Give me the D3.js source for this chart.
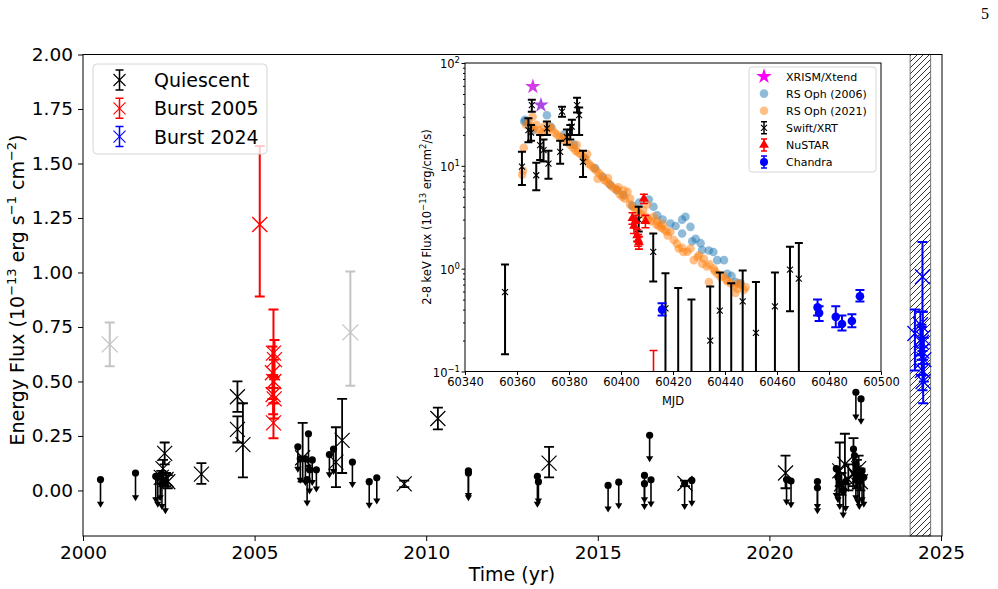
<!DOCTYPE html>
<html>
<head>
<meta charset="utf-8">
<script src="https://cdn.jsdelivr.net/npm/d3@7"></script>
<style>
body { margin: 0; background: #fff; }
text { font-family: "DejaVu Sans", sans-serif; fill: #000; }
</style>
</head>
<body>
<script>
// ---- main panel data: [year, flux, low, high] in 1e-13 erg/s/cm2 ----
var quiescent = [
    [2002.33, 0.10, 0.06, 0.14], [2002.38, 0.17, 0.12, 0.22], [2002.42, 0.05, 0.02, 0.08],
    [2002.28, 0.06, 0.03, 0.09], [2002.47, 0.04, 0.01, 0.07], [2003.45, 0.075, 0.03, 0.125],
    [2004.50, 0.43, 0.36, 0.50], [2004.50, 0.28, 0.22, 0.34], [2004.66, 0.21, 0.06, 0.40],
    [2006.40, 0.15, 0.04, 0.31], [2007.37, 0.13, 0.015, 0.29], [2007.55, 0.23, 0.08, 0.42],
    [2009.36, 0.03, 0.015, 0.045], [2010.34, 0.33, 0.28, 0.38], [2013.58, 0.125, 0.06, 0.20],
    [2017.54, 0.032, 0.02, 0.045], [2020.47, 0.08, 0.01, 0.16], [2022.05, 0.09, 0.02, 0.22],
    [2022.20, 0.12, 0.03, 0.26], [2022.45, 0.08, 0.02, 0.24], [2022.30, 0.05, 0.0, 0.12],
    [2022.55, 0.06, 0.01, 0.14], [2022.65, 0.04, 0.0, 0.10], [2022.10, 0.03, -0.02, 0.08],
    [2022.60, 0.10, 0.04, 0.16]
];
var quiescentFaint = [[2000.78, 0.67, 0.57, 0.77], [2007.79, 0.725, 0.48, 1.005]];
var burst2005 = [
    [2005.15, 1.22, 0.89, 1.58], [2005.55, 0.63, 0.47, 0.83], [2005.58, 0.60, 0.52, 0.69],
    [2005.52, 0.54, 0.42, 0.66], [2005.56, 0.50, 0.40, 0.60], [2005.54, 0.44, 0.35, 0.53],
    [2005.57, 0.42, 0.33, 0.51], [2005.55, 0.31, 0.24, 0.40]
];
var burst2024 = [
    [2024.46, 0.98, 0.82, 1.14], [2024.24, 0.72, 0.55, 0.83], [2024.40, 0.76, 0.62, 0.82],
    [2024.47, 0.70, 0.58, 0.82], [2024.44, 0.64, 0.53, 0.75], [2024.50, 0.60, 0.50, 0.70],
    [2024.46, 0.55, 0.46, 0.64], [2024.48, 0.50, 0.40, 0.60], [2024.43, 0.68, 0.60, 0.76]
];
// upper limits: [year, flux, arrow end]
var upperLimits = [
    [2000.51, 0.05, -0.07], [2001.53, 0.08, -0.04], [2002.12, 0.065, -0.05], [2002.18, 0.06, -0.07],
    [2002.25, 0.07, -0.04], [2002.40, 0.045, -0.10], [2002.30, 0.03, -0.08],
    [2006.26, 0.20, 0.09], [2006.33, 0.145, 0.04], [2006.48, 0.145, 0.03], [2006.57, 0.26, 0.10],
    [2006.68, 0.14, 0.03], [2006.60, 0.095, -0.01], [2006.80, 0.095, 0.0], [2006.53, 0.05, -0.065],
    [2007.18, 0.165, 0.065], [2007.30, 0.19, 0.08], [2007.85, 0.13, 0.02],
    [2008.34, 0.04, -0.075], [2008.56, 0.058, -0.055],
    [2011.23, 0.09, -0.03], [2011.23, 0.08, -0.04], [2013.24, 0.065, -0.07], [2013.27, 0.04, -0.055],
    [2015.30, 0.023, -0.092], [2015.61, 0.038, -0.077], [2016.36, 0.069, -0.081], [2016.36, 0.031, -0.05],
    [2016.51, 0.253, 0.138], [2016.55, 0.049, -0.069], [2017.53, 0.031, -0.081], [2017.74, 0.046, -0.066],
    [2020.50, 0.05, -0.06], [2020.63, 0.043, -0.072], [2021.40, 0.041, -0.10], [2021.40, 0.012, -0.08],
    [2021.95, 0.10, -0.03], [2022.00, 0.06, -0.05], [2022.05, 0.03, -0.08], [2022.15, 0.00, -0.12],
    [2022.22, 0.04, -0.09], [2022.45, 0.19, 0.07], [2022.48, 0.16, 0.04], [2022.52, 0.12, -0.04],
    [2022.58, 0.08, -0.06], [2022.62, 0.05, -0.08], [2022.70, 0.09, -0.05], [2022.75, 0.06, -0.07],
    [2022.52, 0.45, 0.33], [2022.67, 0.42, 0.31]
];
var hatchSpan = [2024.1, 2024.7];
var yearTicks = [2000, 2005, 2010, 2015, 2020, 2025];
var fluxTicks = [0, 0.25, 0.5, 0.75, 1.0, 1.25, 1.5, 1.75, 2.0];
var mainLegend = ["Quiescent", "Burst 2005", "Burst 2024"];

// ---- inset data: [MJD, flux] or [MJD, flux, low, high] ----
var xrism = [[60366.1, 59], [60369.2, 39]];
var rsOph2006 = [
    [60362.8, 27], [60363.1, 28], [60364.0, 26], [60366.0, 22], [60371.5, 31], [60373.0, 24],
    [60378.0, 20], [60382.0, 16], [60386.0, 12], [60390.0, 9.5], [60393.0, 7.8], [60395.9, 6.5],
    [60398.5, 5.8], [60401.0, 5.2], [60404.3, 4.1], [60407.0, 4.4], [60410.7, 4.7], [60412.5, 4.0],
    [60413.9, 3.3], [60416.0, 3.0], [60419.0, 2.75], [60421.0, 2.6], [60423.5, 3.0], [60424.8, 3.2],
    [60426.7, 2.55], [60423.5, 2.2], [60427.4, 1.85], [60428.7, 1.95], [60430.6, 1.77], [60431.2, 1.52],
    [60433.8, 1.5], [60435.5, 1.45], [60437.0, 1.21], [60439.6, 1.21], [60440.9, 0.89], [60442.5, 0.85],
    [60444.1, 0.74], [60446.0, 0.72]
];
var rsOph2021 = [
    [60362.0, 8.2], [60362.3, 9.0], [60362.6, 15], [60363.5, 25], [60364.5, 27], [60365.5, 24],
    [60366.5, 23], [60367.5, 25], [60368.5, 22], [60369.5, 21], [60370.5, 24], [60371.5, 22],
    [60372.5, 24], [60373.5, 23], [60374.5, 21], [60375.5, 20], [60376.5, 19], [60377.5, 18],
    [60378.5, 19], [60379.5, 17], [60380.5, 16], [60381.5, 15], [60382.5, 14], [60383.5, 13.5],
    [60384.5, 13], [60385.5, 12], [60386.5, 11.5], [60387.5, 10.5], [60388.5, 10], [60389.5, 9.5],
    [60390.5, 9], [60391.5, 8.5], [60392.5, 8], [60393.5, 7.3], [60394.5, 7], [60395.5, 6.7],
    [60396.5, 6.3], [60397.5, 6], [60398.5, 5.8], [60399.5, 5.3], [60400.5, 5], [60401.5, 4.8],
    [60402.5, 5.6], [60403.5, 4.2], [60404.5, 4], [60405.5, 3.8], [60406.5, 3.6], [60407.5, 3.4],
    [60408.5, 3.7], [60409.5, 3.2], [60410.5, 3.0], [60411.5, 2.9], [60412.5, 3.2], [60413.5, 2.7],
    [60414.5, 2.6], [60415.5, 2.5], [60416.5, 2.4], [60417.5, 2.3], [60419.0, 2.27], [60420.3, 1.9],
    [60421.5, 1.75], [60422.2, 1.57], [60423.5, 1.6], [60425.5, 1.46], [60426.7, 1.57], [60428.0, 1.21],
    [60429.5, 1.3], [60431.2, 1.12], [60431.9, 1.25], [60433.0, 1.05], [60433.8, 0.74], [60435.7, 1.0],
    [60437.0, 0.89], [60438.3, 0.83], [60439.5, 0.85], [60440.5, 0.78], [60442.2, 0.72], [60443.5, 0.68],
    [60444.7, 0.64], [60446.0, 0.7], [60447.3, 0.62],
    [60366.0, 30], [60383.0, 16], [60387.0, 13], [60391.0, 7.5], [60395.0, 7.6], [60399.0, 6.2],
    [60401.0, 5.8], [60403.5, 4.8], [60410.0, 4.2], [60414.0, 2.9], [60416.0, 2.7], [60418.0, 2.1],
    [60424.0, 1.45], [60430.0, 1.35], [60434.0, 1.1], [60436.0, 0.95], [60441.0, 0.75], [60445.0, 0.72],
    [60448.0, 0.66], [60444.0, 0.58]
];
var swift = [
    [60355.4, 0.59, 0.147, 1.1], [60361.9, 9.8, 6.5, 13.7], [60364.4, 22.3, 17, 29],
    [60365.7, 38.9, 33.6, 44], [60365.4, 21, 17.5, 25], [60367.4, 8.1, 5.8, 10.7],
    [60368.9, 15.9, 11.4, 20], [60370.2, 14.2, 11, 18], [60371.5, 23.1, 20, 27],
    [60372.1, 10.5, 7.5, 14], [60376.6, 13.7, 10.5, 17.5], [60377.3, 33.6, 30, 37.5],
    [60379.2, 19, 16, 22.5], [60380.5, 21.4, 18, 25], [60381.1, 24, 20, 28],
    [60383.1, 38.9, 33, 46], [60383.9, 31.2, 20, 37], [60385.4, 10.9, 7.8, 14],
    [60406.8, 3.0, 2.3, 4.0], [60412.4, 1.46, 0.75, 2.2], [60417.1, 0.41, 0.05, 0.90],
    [60422.0, 0.08, 0.05, 0.65], [60427.1, 0.08, 0.05, 0.50], [60434.3, 0.20, 0.05, 0.67],
    [60438.0, 0.39, 0.05, 0.92], [60442.4, 0.08, 0.05, 0.72], [60446.8, 0.48, 0.05, 0.96],
    [60451.9, 0.237, 0.05, 0.74], [60459.2, 0.43, 0.05, 0.92], [60465.0, 0.98, 0.385, 1.63],
    [60468.4, 0.80, 0.05, 1.78]
];
var nustar = [
    [60404.4, 3.1, 2.7, 3.5], [60405.6, 2.9, 2.5, 3.3], [60408.8, 4.8, 4.3, 5.3],
    [60409.4, 2.9, 2.5, 3.3], [60405.0, 2.6, 2.2, 3.0], [60406.2, 2.1, 1.85, 2.4],
    [60406.6, 1.9, 1.65, 2.15], [60406.9, 1.8, 1.55, 2.05], [60412.5, 0.04, 0.02, 0.16]
];
var chandra = [
    [60415.8, 0.40, 0.35, 0.46], [60475.6, 0.42, 0.35, 0.50], [60476.2, 0.37, 0.31, 0.43],
    [60482.6, 0.34, 0.27, 0.43], [60485.0, 0.29, 0.25, 0.35], [60488.8, 0.31, 0.27, 0.36],
    [60491.9, 0.54, 0.48, 0.62]
];
var mjdTicks = [60340, 60360, 60380, 60400, 60420, 60440, 60460, 60480, 60500];
var logTicks = [0.1, 1, 10, 100];
var logTickExp = ["\u22121", "0", "1", "2"];
var insetLegend = ["XRISM/Xtend", "RS Oph (2006)", "RS Oph (2021)", "Swift/XRT", "NuSTAR", "Chandra"];

setChart();

function setChart() {
    var width = 998,
        height = 589;

    var svg = d3.select("body")
        .append("svg")
        .attr("width", width)
        .attr("height", height);

    var defs = svg.append("defs");
    var hatch = defs.append("pattern")
        .attr("id", "hatch")
        .attr("patternUnits", "userSpaceOnUse")
        .attr("width", 6)
        .attr("height", 6);
    hatch.append("path")
        .attr("d", "M0,6L6,0M-1.5,1.5L1.5,-1.5M4.5,7.5L7.5,4.5")
        .attr("stroke", "#000")
        .attr("stroke-width", 0.8);

    // page number
    svg.append("text")
        .attr("x", 985).attr("y", 19)
        .attr("text-anchor", "middle")
        .style("font-family", "'Liberation Serif', 'DejaVu Serif', serif")
        .attr("font-size", 16)
        .text("5");

    // ---------- main panel ----------
    var x = d3.scaleLinear().domain([2000, 2025]).range([83, 941]);
    var y = d3.scaleLinear().domain([-0.209, 2.0]).range([536, 54.5]);

    var main = svg.append("g").attr("class", "main");

    // hatched 2024 band
    main.append("rect")
        .attr("x", x(hatchSpan[0]))
        .attr("y", 54.5)
        .attr("width", x(hatchSpan[1]) - x(hatchSpan[0]))
        .attr("height", 536 - 54.5)
        .attr("fill", "url(#hatch)")
        .attr("stroke", "#555")
        .attr("stroke-width", 0.8);

    // grey points
    quiescentFaint.forEach(function(d) {
        errBar(main, x(d[0]), y(d[2]), y(d[3]), 5, "#c4c4c4", 2);
        xMark(main, x(d[0]), y(d[1]), 8, "#c4c4c4", 1.3);
    });

    // upper limits
    upperLimits.forEach(function(d) {
        var cx = x(d[0]), cy = y(d[1]), ty = y(d[2]);
        main.append("line")
            .attr("x1", cx).attr("x2", cx)
            .attr("y1", cy).attr("y2", ty - 2)
            .attr("stroke", "#000").attr("stroke-width", 1.6);
        main.append("path")
            .attr("d", "M" + (cx - 3.6) + "," + (ty - 4) + "L" + (cx + 3.6) + "," + (ty - 4) + "L" + cx + "," + (ty + 2) + "Z")
            .attr("fill", "#000");
        main.append("circle")
            .attr("cx", cx).attr("cy", cy).attr("r", 3.6)
            .attr("fill", "#000");
    });

    quiescent.forEach(function(d) {
        errBar(main, x(d[0]), y(d[2]), y(d[3]), 5, "#000", 1.8);
        xMark(main, x(d[0]), y(d[1]), 7.5, "#000", 1.2);
    });

    burst2005.forEach(function(d) {
        errBar(main, x(d[0]), y(d[2]), y(d[3]), 5, "#ff0000", 2);
        xMark(main, x(d[0]), y(d[1]), 7.5, "#ff0000", 1.3);
    });

    burst2024.forEach(function(d) {
        errBar(main, x(d[0]), y(d[2]), y(d[3]), 5, "#0000ff", 2);
        xMark(main, x(d[0]), y(d[1]), 7.5, "#0000ff", 1.3);
    });

    // axes
    var xAxis = main.append("g")
        .attr("transform", "translate(0,536)")
        .call(d3.axisBottom(x).tickValues(yearTicks).tickFormat(d3.format("d")).tickSize(5).tickPadding(5));
    var yAxis = main.append("g")
        .attr("transform", "translate(83,0)")
        .call(d3.axisLeft(y).tickValues(fluxTicks).tickFormat(d3.format(".2f")).tickSize(5).tickPadding(5));
    [xAxis, yAxis].forEach(function(a) {
        a.select(".domain").remove();
        a.attr("font-size", 18.5).attr("font-family", "DejaVu Sans");
        a.selectAll("line").attr("stroke-width", 1);
    });

    main.append("rect")
        .attr("x", 83).attr("y", 54.5)
        .attr("width", 859).attr("height", 536 - 54.5)
        .attr("fill", "none").attr("stroke", "#000").attr("stroke-width", 1);

    main.append("text")
        .attr("x", 512).attr("y", 581)
        .attr("text-anchor", "middle")
        .attr("font-size", 19)
        .text("Time (yr)");

    var yl = main.append("text")
        .attr("transform", "translate(24,290) rotate(-90)")
        .attr("text-anchor", "middle")
        .attr("font-size", 19);
    yl.append("tspan").text("Energy Flux (10");
    yl.append("tspan").attr("dy", -8).attr("font-size", 13).text("\u221213");
    yl.append("tspan").attr("dy", 8).text(" erg s");
    yl.append("tspan").attr("dy", -8).attr("font-size", 13).text("\u22121");
    yl.append("tspan").attr("dy", 8).text(" cm");
    yl.append("tspan").attr("dy", -8).attr("font-size", 13).text("\u22122");
    yl.append("tspan").attr("dy", 8).text(")");

    // main legend
    var leg = main.append("g");
    leg.append("rect")
        .attr("x", 93).attr("y", 64).attr("width", 174).attr("height", 90)
        .attr("rx", 4)
        .attr("fill", "#fff").attr("fill-opacity", 0.8)
        .attr("stroke", "#d6d6d6");
    var legColors = ["#000", "#ff0000", "#0000ff"];
    mainLegend.forEach(function(name, i) {
        var ly = 80 + i * 28.3;
        errBar(leg, 119.5, ly + 10, ly - 10, 4, legColors[i], 1.5);
        xMark(leg, 119.5, ly, 6, legColors[i], 1.1);
        leg.append("text")
            .attr("x", 154).attr("y", ly + 7)
            .attr("font-size", 19)
            .text(name);
    });

    // ---------- inset panel ----------
    var ix = d3.scaleLinear().domain([60340, 60500]).range([465, 881]);
    var iy = d3.scaleLog().domain([0.1, 100]).range([371.5, 63]);

    var inset = svg.append("g").attr("class", "inset");
    inset.append("rect")
        .attr("x", 465).attr("y", 63)
        .attr("width", 416).attr("height", 308.5)
        .attr("fill", "#fff");

    defs.append("clipPath").attr("id", "insetClip")
        .append("rect")
        .attr("x", 465).attr("y", 63)
        .attr("width", 416).attr("height", 308.5);

    var plot = inset.append("g").attr("clip-path", "url(#insetClip)");

    var starFill = ["#d63ce6", "#aa48e0"];
    xrism.forEach(function(d, i) {
        plot.append("path")
            .attr("transform", "translate(" + ix(d[0]) + "," + iy(d[1]) + ")")
            .attr("d", d3.symbol().type(d3.symbolStar).size(75)())
            .attr("fill", starFill[i]);
    });

    plot.selectAll(".rs06")
        .data(rsOph2006)
        .enter()
        .append("circle")
        .attr("class", "rs06")
        .attr("cx", function(d) { return ix(d[0]); })
        .attr("cy", function(d) { return iy(d[1]); })
        .attr("r", 4.3)
        .attr("fill", "#1f77b4")
        .attr("fill-opacity", 0.5);

    plot.selectAll(".rs21")
        .data(rsOph2021)
        .enter()
        .append("circle")
        .attr("class", "rs21")
        .attr("cx", function(d) { return ix(d[0]); })
        .attr("cy", function(d) { return iy(d[1]); })
        .attr("r", 4.3)
        .attr("fill", "#ff7f0e")
        .attr("fill-opacity", 0.5);

    swift.forEach(function(d) {
        errBar(plot, ix(d[0]), iy(d[2]), iy(d[3]), 4, "#000", 2);
        xMark(plot, ix(d[0]), iy(d[1]), 3, "#000", 1.1);
    });

    nustar.forEach(function(d) {
        errBar(plot, ix(d[0]), iy(d[2]), iy(d[3]), 4, "#ff0000", 1.6);
        plot.append("path")
            .attr("transform", "translate(" + ix(d[0]) + "," + iy(d[1]) + ")")
            .attr("d", d3.symbol().type(d3.symbolTriangle).size(42)())
            .attr("fill", "#ff0000");
    });

    chandra.forEach(function(d) {
        errBar(plot, ix(d[0]), iy(d[2]), iy(d[3]), 4.5, "#0000ff", 2);
        plot.append("circle")
            .attr("cx", ix(d[0])).attr("cy", iy(d[1])).attr("r", 4.3)
            .attr("fill", "#0000ff");
    });

    // inset axes
    var minorTicks = [];
    [0.1, 1, 10].forEach(function(dec) {
        for (var k = 2; k <= 9; k++) minorTicks.push(dec * k);
    });
    var ixAxis = inset.append("g")
        .attr("transform", "translate(0,371.5)")
        .call(d3.axisBottom(ix).tickValues(mjdTicks).tickFormat(d3.format("d")).tickSize(3.5).tickPadding(3));
    ixAxis.select(".domain").remove();
    ixAxis.attr("font-size", 11.5).attr("font-family", "DejaVu Sans");

    var iyMinor = inset.append("g")
        .attr("transform", "translate(465,0)")
        .call(d3.axisLeft(iy).tickValues(minorTicks).tickFormat("").tickSize(2));
    iyMinor.select(".domain").remove();

    var iyAxis = inset.append("g")
        .attr("transform", "translate(465,0)")
        .call(d3.axisLeft(iy).tickValues(logTicks).tickFormat("").tickSize(3.5));
    iyAxis.select(".domain").remove();

    logTicks.forEach(function(t, i) {
        var lab = inset.append("text")
            .attr("x", 460).attr("y", iy(t) + 5)
            .attr("text-anchor", "end")
            .attr("font-size", 11.5);
        lab.append("tspan").text("10");
        lab.append("tspan").attr("dy", -5).attr("font-size", 8.5).text(logTickExp[i]);
    });

    inset.append("rect")
        .attr("x", 465).attr("y", 63)
        .attr("width", 416).attr("height", 308.5)
        .attr("fill", "none").attr("stroke", "#000").attr("stroke-width", 1);

    inset.append("text")
        .attr("x", 673).attr("y", 405)
        .attr("text-anchor", "middle")
        .attr("font-size", 11.5)
        .text("MJD");

    var il = inset.append("text")
        .attr("transform", "translate(431,217) rotate(-90)")
        .attr("text-anchor", "middle")
        .attr("font-size", 11.5);
    il.append("tspan").text("2-8 keV Flux (10");
    il.append("tspan").attr("dy", -5).attr("font-size", 8.5).text("\u221213");
    il.append("tspan").attr("dy", 5).text(" erg/cm");
    il.append("tspan").attr("dy", -5).attr("font-size", 8.5).text("2");
    il.append("tspan").attr("dy", 5).text("/s)");

    // inset legend
    var ileg = inset.append("g");
    ileg.append("rect")
        .attr("x", 749).attr("y", 67).attr("width", 127).attr("height", 105)
        .attr("rx", 3)
        .attr("fill", "#fff").attr("fill-opacity", 0.8)
        .attr("stroke", "#d6d6d6");
    insetLegend.forEach(function(name, i) {
        var ly = 76.5 + i * 17.1, lx = 764;
        if (i === 0) {
            ileg.append("path")
                .attr("transform", "translate(" + lx + "," + ly + ")")
                .attr("d", d3.symbol().type(d3.symbolStar).size(75)())
                .attr("fill", "#ff00ff");
        } else if (i === 1 || i === 2) {
            ileg.append("circle")
                .attr("cx", lx).attr("cy", ly).attr("r", 4.3)
                .attr("fill", i === 1 ? "#1f77b4" : "#ff7f0e")
                .attr("fill-opacity", 0.5);
        } else if (i === 3) {
            errBar(ileg, lx, ly + 6, ly - 6, 3, "#000", 1.5);
            xMark(ileg, lx, ly, 3, "#000", 1.1);
        } else if (i === 4) {
            errBar(ileg, lx, ly + 6, ly - 6, 3, "#ff0000", 1.5);
            ileg.append("path")
                .attr("transform", "translate(" + lx + "," + ly + ")")
                .attr("d", d3.symbol().type(d3.symbolTriangle).size(42)())
                .attr("fill", "#ff0000");
        } else {
            errBar(ileg, lx, ly + 6, ly - 6, 3, "#0000ff", 1.5);
            ileg.append("circle")
                .attr("cx", lx).attr("cy", ly).attr("r", 4)
                .attr("fill", "#0000ff");
        }
        ileg.append("text")
            .attr("x", 786).attr("y", ly + 4)
            .attr("font-size", 11)
            .text(name);
    });
}

// vertical error bar with caps
function errBar(g, cx, y0, y1, cap, color, w) {
    g.append("path")
        .attr("d", "M" + cx + "," + y0 + "L" + cx + "," + y1 +
            "M" + (cx - cap) + "," + y0 + "L" + (cx + cap) + "," + y0 +
            "M" + (cx - cap) + "," + y1 + "L" + (cx + cap) + "," + y1)
        .attr("stroke", color)
        .attr("stroke-width", w)
        .attr("fill", "none");
}

// "x" marker
function xMark(g, cx, cy, r, color, w) {
    g.append("path")
        .attr("d", "M" + (cx - r) + "," + (cy - r) + "L" + (cx + r) + "," + (cy + r) +
            "M" + (cx - r) + "," + (cy + r) + "L" + (cx + r) + "," + (cy - r))
        .attr("stroke", color)
        .attr("stroke-width", w)
        .attr("fill", "none");
}
</script>
</body>
</html>
